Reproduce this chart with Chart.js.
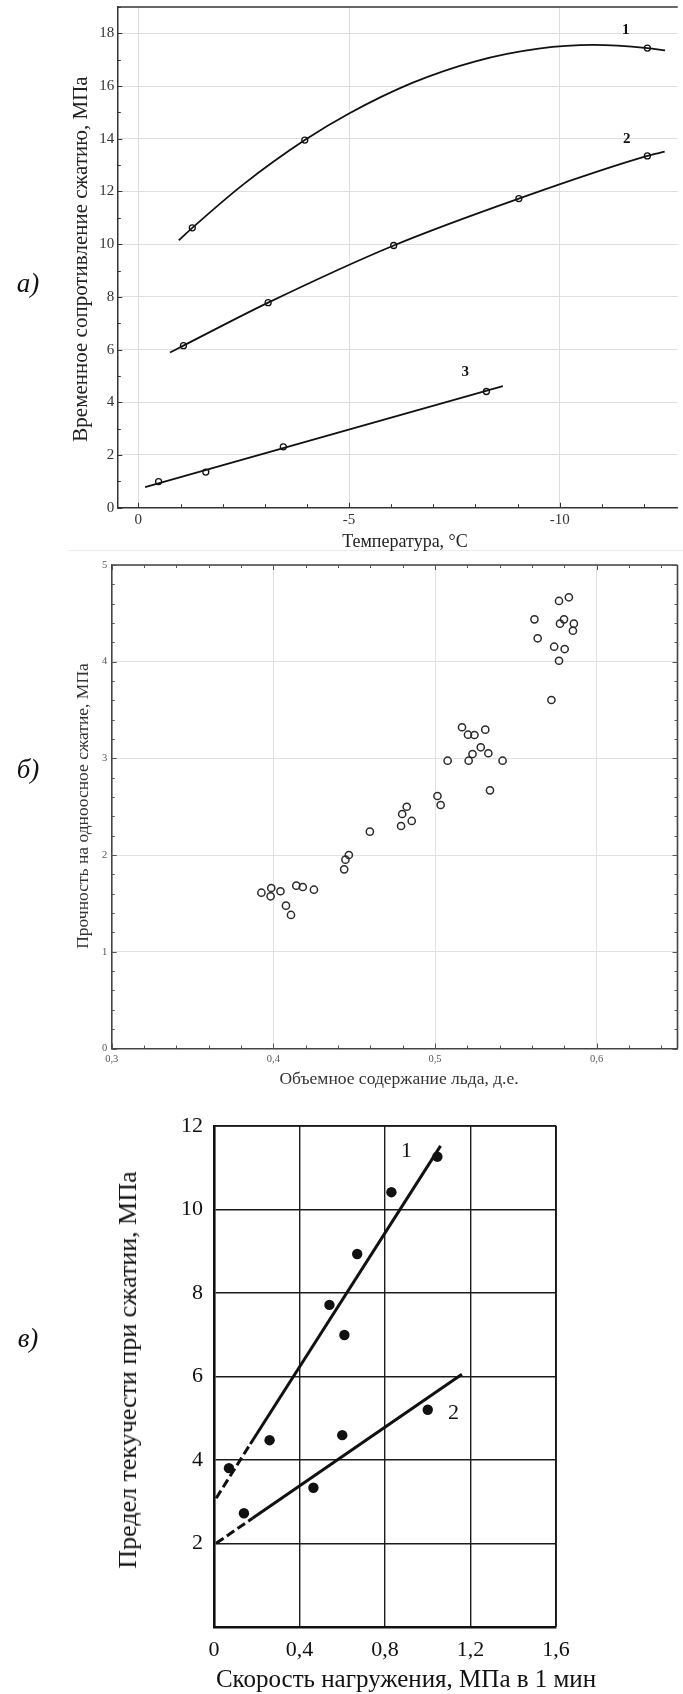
<!DOCTYPE html>
<html lang="ru">
<head>
<meta charset="utf-8">
<title>Прочность мёрзлых пород</title>
<script src="https://cdn.jsdelivr.net/npm/chart.js@4.4.1/dist/chart.umd.min.js"></script>
<style>
  html, body { margin: 0; background: #fff; }
  .page { position: relative; width: 683px; height: 1694px; overflow: hidden;
          font-family: 'Liberation Serif', 'Times New Roman', serif; }
  .page canvas { position: absolute; left: 0; }
  .txt { position: absolute; white-space: nowrap; line-height: 1; transform: translate(-50%, -50%); }
  .txt.vert { transform: translate(-50%, -50%) rotate(-90deg); }
  .tag { font-style: italic; font-size: 27px; color: #111; }
  .rule { position: absolute; left: 68px; top: 550px; width: 615px; height: 1px; background: #ececec; }
</style>
</head>
<body>
<div class="page">
  <canvas id="tempChart" width="683" height="550" style="top:0"></canvas>
  <canvas id="iceChart" width="683" height="540" style="top:556px"></canvas>
  <canvas id="rateChart" width="683" height="594" style="top:1100px"></canvas>
  <div class="rule"></div>

  <div class="txt tag" style="left:28px; top:283px">а)</div>
  <div class="txt tag" style="left:28px; top:769px">б)</div>
  <div class="txt tag" style="left:28px; top:1338px">в)</div>

  <div class="txt vert" style="left:80px; top:259px; font-size:21px; color:#222">Временное сопротивление сжатию, МПа</div>
  <div class="txt" style="left:405px; top:541px; font-size:18px; color:#222">Температура, °С</div>

  <div class="txt vert" style="left:83px; top:806px; font-size:17.5px; color:#333">Прочность на одноосное сжатие, МПа</div>
  <div class="txt" style="left:399px; top:1079px; font-size:17.5px; color:#333">Объемное содержание льда, д.е.</div>

  <div class="txt vert" style="left:128px; top:1370px; font-size:26px; color:#111">Предел текучести при сжатии, МПа</div>
  <div class="txt" style="left:406px; top:1678px; font-size:25px; color:#111">Скорость нагружения, МПа в 1 мин</div>
</div>

<script>
// ---- а) временное сопротивление сжатию от температуры ----
const tempMarks1 = [-1.28, -3.95, -12.08];
const strengthMarks1 = [10.62, 13.95, 17.44];
const tempMarks2 = [-1.07, -3.08, -6.06, -9.03, -12.08];
const strengthMarks2 = [6.15, 7.78, 9.95, 11.73, 13.35];
const tempMarks3 = [-0.48, -1.6, -3.44, -8.26];
const strengthMarks3 = [0.99, 1.35, 2.31, 4.41];

// сглаживающие кривые
const tempCurve1 = [-0.96, -1.28, -2.5, -3.95, -5, -6.5, -8, -9.5, -10.8, -12.08, -12.5];
const strengthCurve1 = [10.15, 10.62, 12.28, 13.95, 14.96, 16.12, 16.94, 17.42, 17.56, 17.44, 17.35];
const tempCurve2 = [-0.75, -1.07, -3.08, -6.06, -9.03, -12.08, -12.49];
const strengthCurve2 = [5.89, 6.15, 7.78, 9.95, 11.73, 13.35, 13.51];
const tempCurve3 = [-0.16, -8.65];
const strengthCurve3 = [0.78, 4.61];

const tempCurveNames = ['1', '2', '3'];
const tempNameAt = [-11.57, -11.59, -7.76];
const strengthNameAt = [18.14, 14.0, 5.13];

// ---- б) прочность от объемной льдистости ----
const iceContent = [
  0.5828, 0.5767, 0.5615, 0.5798, 0.5773, 0.5859, 0.5853, 0.5635, 0.5737, 0.5802, 0.5767, 0.572,
  0.5167, 0.5204, 0.5244, 0.5311, 0.5283, 0.5232, 0.533, 0.5078, 0.5208, 0.5418, 0.534,
  0.5015, 0.5035, 0.4825, 0.4797, 0.4856, 0.479, 0.4597,
  0.4467, 0.4446, 0.4438,
  0.3926, 0.3987, 0.3983, 0.4044, 0.4142, 0.4182, 0.4251, 0.4078, 0.4109
];
const uniaxialStrength = [
  4.666, 4.628, 4.438, 4.438, 4.393, 4.393, 4.32, 4.242, 4.155, 4.131, 4.01, 3.604,
  3.322, 3.245, 3.242, 3.297, 3.115, 3.045, 3.053, 2.976, 2.976, 2.976, 2.67,
  2.611, 2.518, 2.5, 2.425, 2.353, 2.301, 2.242,
  2.001, 1.953, 1.853,
  1.611, 1.66, 1.574, 1.626, 1.684, 1.67, 1.642, 1.477, 1.381
];

// ---- в) предел текучести от скорости нагружения ----
const rate1 = [0.07, 0.26, 0.54, 0.61, 0.67, 0.83, 1.045];
const yield1 = [3.8, 4.47, 7.71, 6.99, 8.93, 10.41, 11.26];
const rate2 = [0.14, 0.465, 0.6, 1.0];
const yield2 = [2.72, 3.33, 4.59, 5.2];
// прямые: первый отрезок экстраполяции пунктиром
const rateFit1 = [0.01, 0.17, 1.06];
const yieldFit1 = [3.08, 4.38, 11.52];
const rateFit2 = [0.01, 0.18, 1.16];
const yieldFit2 = [2.0, 2.6, 6.05];
const rateNames = ['1', '2'];
const rateNameAt = [0.9, 1.12];
const yieldNameAt = [11.38, 5.11];

const SERIF = "'Liberation Serif', 'Times New Roman', serif";
const pts = (xs, ys) => xs.map((x, i) => ({ x, y: ys[i] }));
const comma = v => String(+Number(v).toFixed(2)).replace('.', ',');

// fixed axis boxes so the plot area sits exactly where it should
const fixBox = (w, h) => s => {
  if (w != null) s.width = w;
  if (h != null) s.height = h;
  s.paddingLeft = s.paddingRight = s.paddingTop = s.paddingBottom = 0;
};

// frame lines and inward tick marks
const framePlugin = {
  id: 'frame',
  afterDraw(chart, args, o) {
    const { ctx, chartArea: a } = chart;
    ctx.save();
    ctx.strokeStyle = o.color;
    ctx.lineWidth = o.width;
    ctx.beginPath();
    (o.sides || []).forEach(side => {
      if (side === 'top') { ctx.moveTo(a.left, a.top); ctx.lineTo(a.right, a.top); }
      if (side === 'right') { ctx.moveTo(a.right, a.top); ctx.lineTo(a.right, a.bottom); }
    });
    ctx.stroke();

    if (o.ticks) {
      ctx.strokeStyle = o.ticks.color;
      ctx.lineWidth = o.ticks.lineWidth;
      ctx.beginPath();
      [['x', o.ticks.x], ['y', o.ticks.y]].forEach(([id, spec]) => {
        if (!spec) return;
        const sc = chart.scales[id];
        const lo = Math.min(sc.min, sc.max), hi = Math.max(sc.min, sc.max);
        const first = Math.ceil(lo / spec.minor - 1e-6), last = Math.floor(hi / spec.minor + 1e-6);
        for (let k = first; k <= last; k++) {
          const v = k * spec.minor;
          const r = v / spec.major;
          const len = Math.abs(r - Math.round(r)) < 1e-6 ? o.ticks.majorLen : o.ticks.minorLen;
          const p = Math.round(sc.getPixelForValue(v)) + 0.5;
          spec.sides.forEach(side => {
            if (side === 'bottom') { ctx.moveTo(p, a.bottom); ctx.lineTo(p, a.bottom - len); }
            if (side === 'top') { ctx.moveTo(p, a.top); ctx.lineTo(p, a.top + len); }
            if (side === 'left') { ctx.moveTo(a.left, p); ctx.lineTo(a.left + len, p); }
            if (side === 'right') { ctx.moveTo(a.right, p); ctx.lineTo(a.right - len, p); }
          });
        }
      });
      ctx.stroke();
    }
    ctx.restore();
  }
};

// curve numbers written next to the lines
const namesPlugin = {
  id: 'names',
  afterDatasetsDraw(chart, args, o) {
    if (!o.text) return;
    const { ctx, scales: { x, y } } = chart;
    ctx.save();
    ctx.font = o.font;
    ctx.fillStyle = o.color;
    ctx.textAlign = 'center';
    ctx.textBaseline = 'middle';
    o.text.forEach((t, i) => ctx.fillText(t, x.getPixelForValue(o.xs[i]), y.getPixelForValue(o.ys[i])));
    ctx.restore();
  }
};

Chart.register(framePlugin, namesPlugin);

const baseOptions = {
  responsive: false,
  animation: false,
  events: [],
};

// а)
const curveStyle = { showLine: true, pointRadius: 0, borderColor: '#111', borderWidth: 1.8,
                     cubicInterpolationMode: 'monotone', fill: false };
const openMark = { pointRadius: 3, pointBorderWidth: 1.3, pointBorderColor: '#111',
                   pointBackgroundColor: '#fff', showLine: false };

new Chart(document.getElementById('tempChart'), {
  type: 'scatter',
  data: {
    datasets: [
      { ...curveStyle, data: pts(tempCurve1, strengthCurve1) },
      { ...curveStyle, data: pts(tempCurve2, strengthCurve2) },
      { ...curveStyle, data: pts(tempCurve3, strengthCurve3) },
      { ...openMark, data: pts(tempMarks1, strengthMarks1) },
      { ...openMark, data: pts(tempMarks2, strengthMarks2) },
      { ...openMark, data: pts(tempMarks3, strengthMarks3) },
    ]
  },
  options: {
    ...baseOptions,
    layout: { padding: { left: 0, right: 0, top: 7, bottom: 0 } },
    plugins: {
      legend: { display: false },
      tooltip: { enabled: false },
      frame: { color: '#333', width: 1.5, sides: ['top'],
               ticks: { color: '#333', lineWidth: 1, majorLen: 5, minorLen: 3.5,
                        x: { minor: 1, major: 5, sides: ['bottom'] },
                        y: { minor: 1, major: 2, sides: ['left'] } } },
      names: { text: tempCurveNames, xs: tempNameAt, ys: strengthNameAt,
               font: 'bold 15px ' + SERIF, color: '#111' }
    },
    scales: {
      x: {
        type: 'linear', reverse: true, min: -12.8, max: 0.5,
        afterFit: fixBox(null, 42.3),
        ticks: { stepSize: 5, includeBounds: false, padding: 3, color: '#333', maxRotation: 0,
                 font: { family: SERIF, size: 15 }, callback: comma },
        grid: { color: '#dedede', lineWidth: 1, drawTicks: false },
        border: { color: '#333', width: 1.5 }
      },
      y: {
        min: 0, max: 19,
        afterFit: fixBox(117.3, null),
        ticks: { stepSize: 2, includeBounds: false, padding: 3, color: '#333',
                 font: { family: SERIF, size: 15 }, callback: comma },
        grid: { color: '#dedede', lineWidth: 1, drawTicks: false },
        border: { color: '#333', width: 1.5 }
      }
    }
  }
});

// б)
new Chart(document.getElementById('iceChart'), {
  type: 'scatter',
  data: {
    datasets: [{
      data: pts(iceContent, uniaxialStrength),
      pointRadius: 3.6, pointBorderWidth: 1.5, pointBorderColor: '#2a2a2a',
      pointBackgroundColor: 'rgba(255,255,255,0)'
    }]
  },
  options: {
    ...baseOptions,
    layout: { padding: { left: 0, right: 1.5, top: 9, bottom: 0 } },
    plugins: {
      legend: { display: false },
      tooltip: { enabled: false },
      frame: { color: '#444', width: 1.6, sides: ['top', 'right'],
               ticks: { color: '#555', lineWidth: 1, majorLen: 5, minorLen: 3,
                        x: { minor: 0.02, major: 0.1, sides: ['bottom', 'top'] },
                        y: { minor: 0.2, major: 1, sides: ['left', 'right'] } } },
      names: {}
    },
    scales: {
      x: {
        type: 'linear', min: 0.3, max: 0.65,
        afterFit: fixBox(null, 47.5),
        ticks: { stepSize: 0.1, includeBounds: false, padding: 4.5, color: '#555', maxRotation: 0,
                 font: { family: SERIF, size: 10.5 }, callback: comma },
        grid: { color: '#e2e2e2', lineWidth: 1, drawTicks: false },
        border: { color: '#444', width: 1.6 }
      },
      y: {
        min: 0, max: 5,
        afterFit: fixBox(111.7, null),
        ticks: { stepSize: 1, includeBounds: false, padding: 4.5, color: '#555',
                 font: { family: SERIF, size: 10.5 }, callback: comma },
        grid: { color: '#e2e2e2', lineWidth: 1, drawTicks: false },
        border: { color: '#444', width: 1.6 }
      }
    }
  }
});

// в)
const dashFirst = { borderDash: ctx => ctx.p0DataIndex === 0 ? [9, 4] : undefined };
const fitStyle = { showLine: true, pointRadius: 0, borderColor: '#111', borderWidth: 3,
                   fill: false, segment: dashFirst };
const solidDot = { pointRadius: 5.2, pointBorderWidth: 0, pointBackgroundColor: '#111', showLine: false };

new Chart(document.getElementById('rateChart'), {
  type: 'scatter',
  data: {
    datasets: [
      { ...fitStyle, data: pts(rateFit1, yieldFit1) },
      { ...fitStyle, data: pts(rateFit2, yieldFit2) },
      { ...solidDot, data: pts(rate1, yield1) },
      { ...solidDot, data: pts(rate2, yield2) },
    ]
  },
  options: {
    ...baseOptions,
    layout: { padding: { left: 0, right: 127, top: 25.8, bottom: 0 } },
    plugins: {
      legend: { display: false },
      tooltip: { enabled: false },
      frame: { color: '#1a1a1a', width: 1.8, sides: ['top', 'right'] },
      names: { text: rateNames, xs: rateNameAt, ys: yieldNameAt,
               font: '22px ' + SERIF, color: '#111' }
    },
    scales: {
      x: {
        type: 'linear', min: 0, max: 1.6,
        afterFit: fixBox(null, 67.2),
        ticks: { stepSize: 0.4, includeBounds: false, padding: 10, color: '#111', maxRotation: 0,
                 font: { family: SERIF, size: 22 }, callback: comma },
        grid: { color: '#1c1c1c', lineWidth: 1.4, drawTicks: false },
        border: { color: '#111', width: 2.6 }
      },
      y: {
        min: 0, max: 12,
        afterFit: fixBox(214, null),
        ticks: { stepSize: 2, includeBounds: false, padding: 11, color: '#111',
                 font: { family: SERIF, size: 22 }, callback: v => v === 0 ? '' : comma(v) },
        grid: { color: '#1c1c1c', lineWidth: 1.4, drawTicks: false },
        border: { color: '#111', width: 2.6 }
      }
    }
  }
});
</script>
</body>
</html>
